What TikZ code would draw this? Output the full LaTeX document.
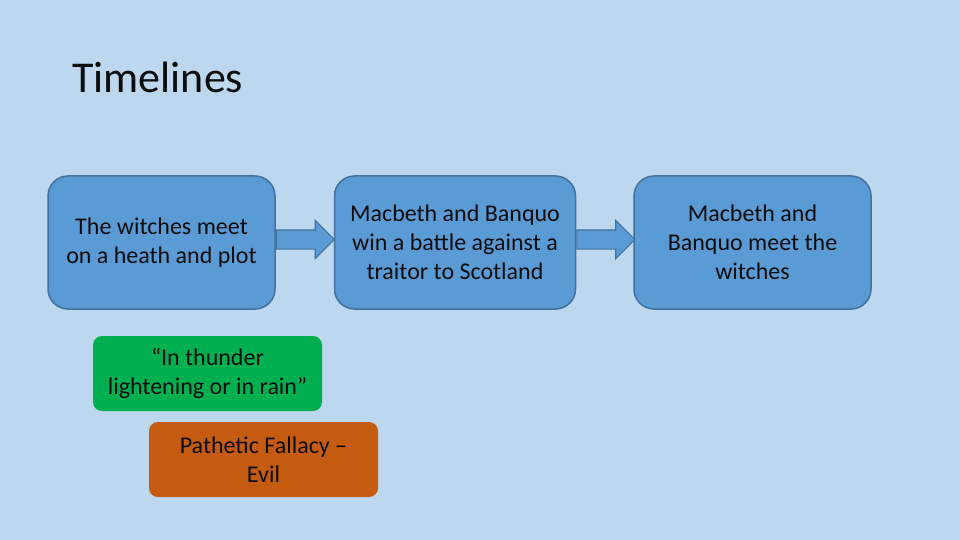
\documentclass[tikz,border=0pt]{standalone}
\usepackage{fontspec}
\setmainfont{Carlito}
\usepackage{xcolor}
\usepackage{tikz}
\usetikzlibrary{shapes.arrows, positioning, calc}
\definecolor{slidebg}{RGB}{189, 215, 238}
\definecolor{stageblue}{RGB}{91, 155, 213}
\definecolor{stageedge}{RGB}{65, 113, 156}
\definecolor{quotegreen}{RGB}{0, 176, 80}
\definecolor{noteorange}{RGB}{197, 90, 17}
\definecolor{inkdark}{RGB}{13, 13, 13}
\tikzset{
    stagebox/.style={
        draw=stageedge, fill=stageblue, line width=1.5pt, rounded corners=20pt,
        minimum height=133pt, align=center, text=inkdark,
        font=\fontsize{24}{28.8}\selectfont
    },
    notebox/.style={
        rounded corners=9pt, minimum width=229pt, minimum height=75pt,
        align=center, text=inkdark, font=\fontsize{24}{28.8}\selectfont
    },
    stepline/.style={
        single arrow, draw=stageedge, fill=stageblue, line width=1.2pt,
        minimum height=58pt, inner xsep=0pt, inner ysep=9pt,
        single arrow head extend=9.5pt, anchor=tail, yshift=3pt
    }
}
\begin{document}
\begin{tikzpicture}[x=1pt, y=-1pt]
    % --- nen va tieu de ---
    \fill[slidebg] (0,0) rectangle (960,540);
    \node[anchor=base west, inner sep=0pt, text=inkdark,
        font=\fontsize{44}{52}\selectfont] (title) at (72,93) {Timelines};

    % --- cac moc thoi gian ---
    \node[stagebox, minimum width=227pt] (witches) at (161.5,242.5)
        {The witches meet\\on a heath and plot};
    \node[stagebox, minimum width=241pt, right=58pt of witches] (battle)
        {Macbeth and Banquo\\win a battle against a\\traitor to Scotland};
    \node[stagebox, minimum width=237pt, right=57pt of battle] (meeting)
        {Macbeth and\\Banquo meet the\\witches};

    % --- mui ten ---
    \node[stepline] (step1) at (witches.east) {};
    \node[stepline] (step2) at (battle.east) {};

    % --- chu thich ---
    \node[notebox, fill=quotegreen] (quote) at (207.5,373.5)
        {“In thunder\\lightening or in rain”};
    \node[notebox, fill=noteorange] (fallacy) at (263.5,459.5)
        {Pathetic Fallacy –\\Evil};
\end{tikzpicture}
\end{document}
